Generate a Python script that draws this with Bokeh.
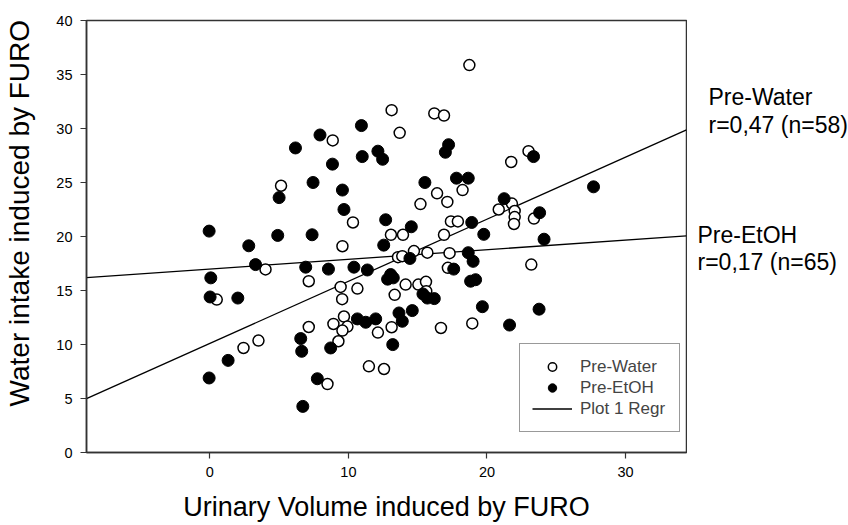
from bokeh.plotting import figure
from bokeh.layouts import row
from bokeh.models import Range1d, Label, Legend, LegendItem, FixedTicker
from bokeh.embed import file_html
from bokeh.resources import INLINE

# Pre-Water (open circles)
water_x = [18.73, 13.12, 16.2, 16.9, 8.87, 13.7, 23.0, 21.75, 16.4, 18.24,
           15.2, 17.14, 5.14, 10.33, 17.4, 17.9, 13.07, 13.94, 16.9, 9.57,
           13.58, 13.89, 14.73, 15.7, 17.3, 17.18, 7.14, 9.44, 10.65, 14.13,
           15.05, 15.6, 15.62, 9.55, 13.34, 20.85, 21.8, 22.0, 22.0, 21.95,
           23.39, 23.2, 18.94, 9.68, 8.92, 9.93, 9.57, 9.28, 7.14, 12.13,
           13.12, 16.68, 11.48, 12.57, 8.49, 0.5, 3.51, 2.43, 4.02]
water_y = [35.87, 31.7, 31.4, 31.2, 28.9, 29.6, 27.9, 26.9, 24.0, 24.3,
           23.0, 23.2, 24.7, 21.3, 21.4, 21.4, 20.16, 20.16, 20.16, 19.1,
           18.09, 18.18, 18.65, 18.5, 18.46, 17.1, 15.86, 15.33, 15.18, 15.55,
           15.55, 15.8, 14.94, 14.2, 14.6, 22.5, 23.05, 22.36, 21.8, 21.16,
           21.66, 17.4, 11.95, 12.59, 11.9, 11.66, 11.29, 10.3, 11.62, 11.1,
           11.6, 11.53, 7.98, 7.73, 6.34, 14.16, 10.36, 9.68, 16.95]

# Pre-EtOH (filled circles)
etoh_x = [10.94, 7.95, 6.18, 17.23, 17.0, 11.0, 12.13, 12.47, 8.85, 23.36,
          7.45, 9.57, 15.52, 17.8, 18.65, 5.0, 9.68, 12.69, 14.54, 18.9,
          7.38, 4.9, 12.55, 14.44, 18.65, 19.0, 6.92, 8.56, 10.4, 11.37,
          17.6, 13.05, 13.24, 12.83, 15.38, 15.7, 16.2, 18.82, 19.18, 27.69,
          21.24, 23.8, 19.77, 24.12, 19.67, 21.63, 23.76, 6.56, 6.63, 8.72,
          10.65, 11.25, 11.97, 13.65, 13.89, 14.61, 13.2, 7.76, 6.71, 0.02,
          2.02, 1.32, -0.05, -0.05, 2.81, 3.3, 0.07]
etoh_y = [30.27, 29.4, 28.2, 28.5, 27.8, 27.4, 27.9, 27.15, 26.7, 27.4,
          25.0, 24.3, 25.0, 25.4, 25.4, 23.6, 22.5, 21.55, 20.9, 21.3,
          20.16, 20.1, 19.2, 17.97, 18.5, 17.7, 17.16, 16.98, 17.16, 16.9,
          16.98, 16.48, 16.17, 16.05, 14.68, 14.3, 14.25, 15.86, 16.0, 24.6,
          23.5, 22.2, 20.2, 19.75, 13.5, 11.8, 13.27, 10.55, 9.37, 9.68,
          12.37, 12.06, 12.37, 12.92, 12.15, 13.14, 9.99, 6.83, 4.27, 14.4,
          14.3, 8.53, 6.9, 20.5, 19.14, 17.4, 16.17]

# regression fits (slope, intercept)
water_slope, water_intercept = 0.575, 10.1
etoh_slope, etoh_intercept = 0.0894, 16.99

x_ticks = [0, 10, 20, 30]
y_ticks = [0, 5, 10, 15, 20, 25, 30, 35, 40]

XMIN, XMAX = -8.9, 34.4
FONT = "Liberation Sans"
NB = "\u00a0"

p = figure(width=687, height=525, output_backend="svg", toolbar_location=None,
           x_range=Range1d(XMIN, XMAX), y_range=Range1d(0, 40),
           min_border_left=86, min_border_right=1,
           min_border_top=20, min_border_bottom=73)
p.xgrid.visible = False
p.ygrid.visible = False
p.outline_line_color = "#333333"
p.outline_line_width = 1.5
p.background_fill_color = "white"
p.border_fill_color = "white"

for ax in (p.xaxis[0], p.yaxis[0]):
    ax.axis_line_color = "#333333"
    ax.axis_line_width = 1.5
    ax.major_tick_line_color = "#333333"
    ax.major_tick_line_width = 1.2
    ax.major_tick_out = 6
    ax.major_tick_in = 0
    ax.minor_tick_line_color = None
    ax.major_label_text_font = FONT
    ax.major_label_text_font_size = "14.5px"
    ax.major_label_text_color = "black"
    ax.major_label_standoff = 8
    ax.axis_label_text_font = FONT
    ax.axis_label_text_font_style = "normal"
    ax.axis_label_text_color = "black"

p.xaxis[0].ticker = FixedTicker(ticks=x_ticks)
p.yaxis[0].ticker = FixedTicker(ticks=y_ticks)
p.xaxis[0].axis_label = "Urinary Volume induced by FURO"
p.xaxis[0].axis_label_text_font_size = "27px"
p.xaxis[0].axis_label_standoff = 12
p.yaxis[0].axis_label = NB * 6 + "Water intake induced by FURO"
p.yaxis[0].axis_label_text_font_size = "28px"
p.yaxis[0].axis_label_standoff = 18

lx = [XMIN, XMAX]
r_wline = p.line(lx, [water_intercept + water_slope * v for v in lx],
                 line_color="black", line_width=1.3)
p.line(lx, [etoh_intercept + etoh_slope * v for v in lx],
       line_color="black", line_width=1.3)

r_w = p.scatter(water_x, water_y, marker="circle", size=11, fill_color="white",
                line_color="black", line_width=1.5)
r_e = p.scatter(etoh_x, etoh_y, marker="circle", size=12, fill_color="black",
                line_color="black", line_width=1)

legend = Legend(items=[LegendItem(label="Pre-Water", renderers=[r_w]),
                       LegendItem(label="Pre-EtOH", renderers=[r_e]),
                       LegendItem(label="Plot 1 Regr", renderers=[r_wline])],
                location=(433, 20), padding=12, spacing=0,
                glyph_width=40, glyph_height=21, label_height=21,
                label_standoff=8, label_width=87,
                label_text_font=FONT, label_text_font_size="17px",
                border_line_color="#333333", border_line_width=1.5,
                background_fill_alpha=1, margin=0)
p.add_layout(legend)

# side panel for the regression annotations, sharing the y scale
p2 = figure(width=161, height=525, output_backend="svg", toolbar_location=None,
            x_range=Range1d(0, 161), y_range=p.y_range,
            x_axis_location=None, y_axis_location=None,
            min_border_left=0, min_border_right=0,
            min_border_top=20, min_border_bottom=73)
p2.xgrid.visible = False
p2.ygrid.visible = False
p2.outline_line_color = None
p2.background_fill_color = "white"
p2.border_fill_color = "white"

notes = [(21, 32.9, "Pre-Water"), (21, 30.3, "r=0,47 (n=58)"),
         (10, 20.15, "Pre-EtOH"), (10, 17.65, "r=0,17 (n=65)")]
for nx, ny, t in notes:
    p2.add_layout(Label(x=nx, y=ny, text=t, text_font=FONT,
                        text_font_size="23px", text_color="black",
                        text_baseline="alphabetic"))

layout = row(p, p2, spacing=0)
open("out.html", "w").write(file_html(layout, INLINE))
